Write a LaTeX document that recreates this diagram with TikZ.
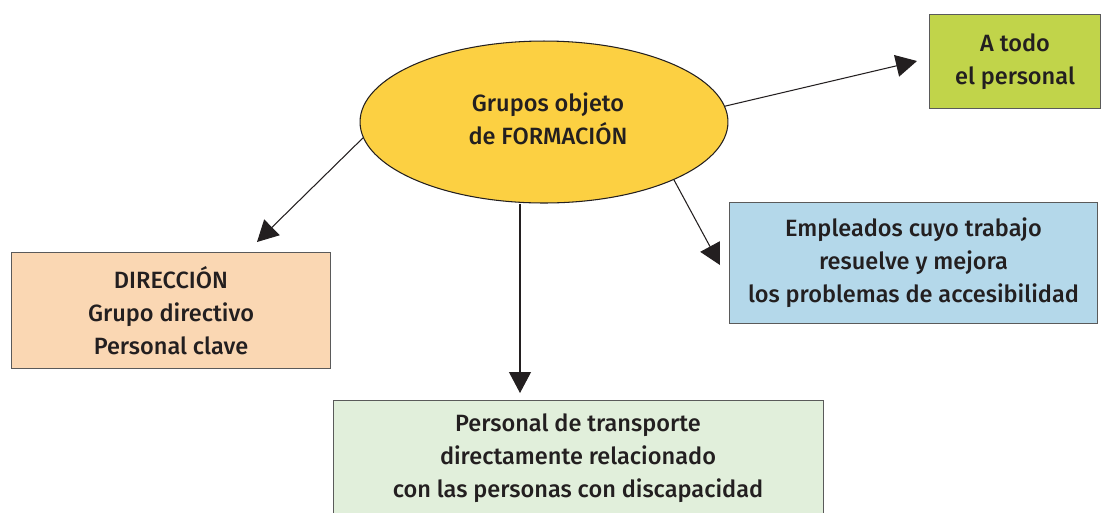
\documentclass[tikz,border=0pt]{standalone}
\usepackage{fontspec}
\setmainfont{Fira Sans}[UprightFont={* Medium}]
\usetikzlibrary{arrows.meta,shapes.geometric}
\definecolor{cyellow}{HTML}{FCD042}
\definecolor{clime}{HTML}{C1D44A}
\definecolor{cpeach}{HTML}{FAD7B3}
\definecolor{cblue}{HTML}{B4D8EA}
\definecolor{cmint}{HTML}{E1EFDB}
\definecolor{cline}{HTML}{231F20}
\definecolor{cbord}{HTML}{5A5A5A}
\tikzset{
  txt/.style={align=center, font=\fontsize{13.4}{18.8}\selectfont, text=cline},
  box/.style={txt, draw=cbord, line width=0.6pt, inner sep=0pt},
  conn/.style={draw=cline, line width=0.6pt, -{Triangle[length=0.42cm,width=0.44cm]}},
}
\begin{document}
\begin{tikzpicture}[x=0.02cm,y=-0.02cm]
\useasboundingbox (0,0) rectangle (1103,512);
% boxes
\node[box, fill=clime, minimum width=3.42cm, minimum height=1.88cm, anchor=north west] (todo) at (929,14) {A todo\\el personal};
\node[box, fill=cpeach, minimum width=6.38cm, minimum height=2.32cm, anchor=north west] (dir) at (11,252) {DIRECCIÓN\\Grupo directivo\\Personal clave};
\node[box, fill=cblue, minimum width=7.36cm, minimum height=2.42cm, anchor=north west] (emp) at (729,202) {Empleados cuyo trabajo\\resuelve y mejora\\los problemas de accesibilidad};
\node[box, fill=cmint, minimum width=9.8cm, minimum height=2.6cm, anchor=north west] (pers) at (333,400) {};
\node[txt, inner sep=0pt] (perstxt) at (578,458) {Personal de transporte\\directamente relacionado\\con las personas con discapacidad};
\node[ellipse, draw=cline, line width=0.6pt, fill=cyellow, minimum width=7.36cm, minimum height=3.24cm, inner sep=0pt] (grp) at (544,122) {};
\node[txt, inner sep=0pt] (grptxt) at (548,119) {Grupos objeto\\de FORMACIÓN};
% connectors
\coordinate (tTodo) at (917,61);
\coordinate (tDir) at (257,242);
\coordinate (tEmp) at (720,265);
\coordinate (tPers) at (520,393);
\draw[conn] (grp.5.3) -- (tTodo);
\draw[conn] (grp.185.8) -- (tDir);
\draw[conn] (grp.-24.4) -- (tEmp);
\draw[conn] (grp.south -| tPers) -- (tPers);
\end{tikzpicture}
\end{document}
